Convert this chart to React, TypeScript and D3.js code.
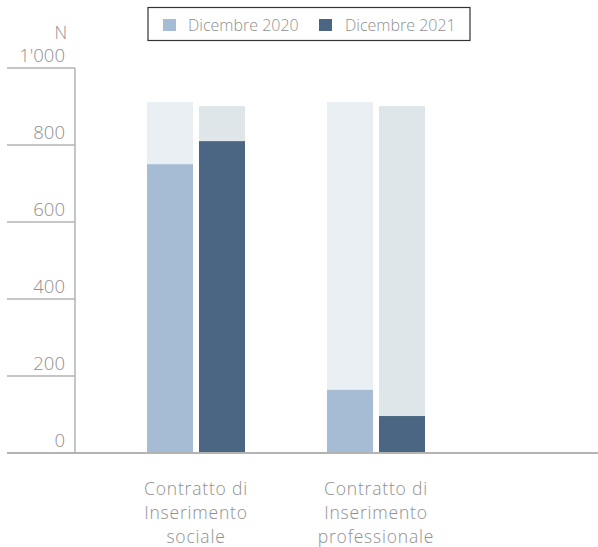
import React from "react";
import * as d3 from "d3";

const categories = [["Contratto di", "Inserimento", "sociale"], ["Contratto di", "Inserimento", "professionale"]];
const seriesNames = ["Dicembre 2020", "Dicembre 2021"];
const values2020 = [750, 164];
const values2021 = [810, 96];
const background2020 = [912, 912];
const background2021 = [901, 901];
const yTicks = [0, 200, 400, 600, 800, 1000];
const yTickLabels = ["0", "200", "400", "600", "800", "1'000"];

const W = 598, H = 547;
const fillColors = ["#a6bcd4", "#4a6682"];
const bgColors = ["#eaeff4", "#dfe6ea"];
const grey = "#8f8f8f";
const axisColor = "#b3b3b3";
const font = "'Open Sans', Lato, sans-serif";

export default function App() {
  const y = d3.scaleLinear().domain([0, 1000]).range([453, 68]);
  const x0 = d3.scaleBand<number>().domain([0, 1]).range([106, 466]).paddingInner(0).paddingOuter(0);
  const x1 = d3.scaleBand<number>().domain([0, 1]).range([0, 98]).paddingInner(6 / 52);
  const vals = [values2020, values2021];
  const bgs = [background2020, background2021];
  return (
    <svg width={W} height={H} style={{ position: "absolute", left: 0, top: 0 }}>
      {yTicks.map((t, i) => (
        <g key={t}>
          {t > 0 && <line x1={7} x2={75} y1={y(t)} y2={y(t)} stroke={axisColor} strokeWidth={1.5} />}
          <text x={65} y={y(t) - 6} textAnchor="end" fill={grey} fontFamily={font} fontWeight={300} fontSize={18.5}>{yTickLabels[i]}</text>
        </g>
      ))}
      <text x={67} y={39} textAnchor="end" fill={grey} fontFamily={font} fontWeight={300} fontSize={17.5}>N</text>
      <line x1={75} x2={75} y1={y(1000)} y2={y(0)} stroke={axisColor} strokeWidth={1.5} />
      {categories.map((c, ci) => {
        const gx = (x0(ci) as number) + (x0.bandwidth() - 98) / 2;
        return (
          <g key={ci}>
            {[0, 1].map(si => {
              const bx = gx + (x1(si) as number);
              return (
                <g key={si}>
                  <rect x={bx} width={x1.bandwidth()} y={y(bgs[si][ci])} height={y(0) - y(bgs[si][ci])} fill={bgColors[si]} />
                  <rect x={bx} width={x1.bandwidth()} y={y(vals[si][ci])} height={y(0) - y(vals[si][ci])} fill={fillColors[si]} />
                </g>
              );
            })}
            {c.map((line, li) => (
              <text key={li} x={gx + 49} y={495 + li * 24} textAnchor="middle" fill={grey} fontFamily={font} fontWeight={300} fontSize={17.5} letterSpacing={0.8}>{line}</text>
            ))}
          </g>
        );
      })}
      <line x1={7} x2={598} y1={y(0)} y2={y(0)} stroke={axisColor} strokeWidth={2} />
      <rect x={148} y={7.5} width={322} height={33} fill="white" stroke="#333" strokeWidth={1.2} />
      {seriesNames.map((s, i) => (
        <g key={s}>
          <rect x={163 + i * 156} y={19} width={13} height={12} fill={fillColors[i]} />
          <text x={188 + i * 157} y={31} fill={grey} fontFamily={font} fontWeight={300} fontSize={16}>{s}</text>
        </g>
      ))}
    </svg>
  );
}
